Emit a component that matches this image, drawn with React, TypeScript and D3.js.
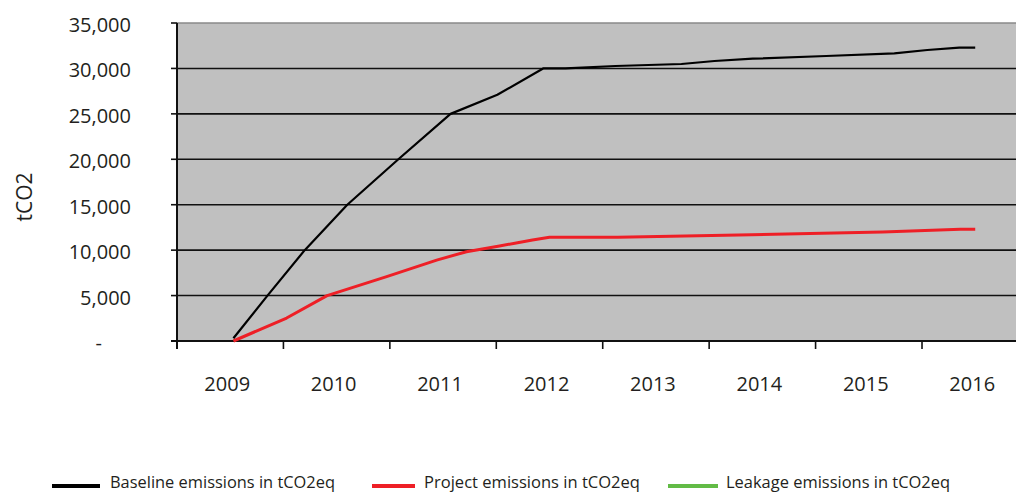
import React from "react";
import * as d3 from "d3";

const years = [2009, 2010, 2011, 2012, 2013, 2014, 2015, 2016];
const yTicks = [0, 5000, 10000, 15000, 20000, 25000, 30000, 35000];

// time (fractional year, year centre = integer) and values
const baselineT = [2009.03, 2009.35, 2009.7, 2010.1, 2010.58, 2011.07, 2011.51, 2011.94, 2012.15, 2012.62, 2013.24, 2013.55, 2013.91, 2014.6, 2015.24, 2015.55, 2015.85, 2016.0];
const baselineV = [300, 5000, 10000, 15000, 20000, 25000, 27100, 30000, 30000, 30270, 30490, 30820, 31070, 31370, 31660, 32030, 32280, 32300];

const projectT = [2009.03, 2009.53, 2009.91, 2010.47, 2010.94, 2011.22, 2011.53, 2011.7, 2011.84, 2012.0, 2012.64, 2013.9, 2015.13, 2015.86, 2016.0];
const projectV = [0, 2530, 5000, 7080, 8900, 9830, 10460, 10820, 11120, 11410, 11430, 11700, 12000, 12290, 12290];

const legendItems = [
  { label: "Baseline emissions in tCO2eq", color: "#000000" },
  { label: "Project emissions in tCO2eq", color: "#ee1f26" },
  { label: "Leakage emissions in tCO2eq", color: "#62bb46" },
];

const W = 1016;
const H = 492;
const left = 177;
const top = 23;
const bottom = 341;
const step = 106.43;

export default function App() {
  const x = d3.scaleLinear().domain([2008.5, 2016.5]).range([left, left + 8 * step]);
  const y = d3.scaleLinear().domain([0, 35000]).range([bottom, top]);
  const line = d3
    .line<[number, number]>()
    .x((d) => x(d[0]))
    .y((d) => y(d[1]));
  const baseline = baselineT.map((t, i) => [t, baselineV[i]] as [number, number]);
  const project = projectT.map((t, i) => [t, projectV[i]] as [number, number]);
  const fmt = d3.format(",");
  const font = "'Open Sans', 'DejaVu Sans', sans-serif";
  const xTickPos = d3.range(0, 9).map((i) => 2008.5 + i);
  const legendX = [52, 372, 668];
  const legendW = [48, 43, 50];
  const legendTextX = [110, 424, 726];
  const legendTextLen = [225, 216, 224];

  return (
    <svg width={W} height={H} style={{ position: "absolute", left: 0, top: 0, display: "block" }} fontFamily={font}>
      <rect x={0} y={0} width={W} height={H} fill="#ffffff" />
      <rect x={left} y={top} width={W - left} height={bottom - top} fill="#c0c0c0" />
      <line x1={left} x2={W} y1={top} y2={top} stroke="#8a8a8a" strokeWidth={1.5} />
      {yTicks.slice(1, -1).map((v) => (
        <line key={v} x1={left} x2={W} y1={y(v)} y2={y(v)} stroke="#111" strokeWidth={1.6} />
      ))}
      {/* axes */}
      <line x1={left} x2={left} y1={top} y2={bottom + 8} stroke="#111" strokeWidth={2} />
      <line x1={left - 6} x2={W} y1={bottom} y2={bottom} stroke="#111" strokeWidth={2} />
      {yTicks.map((v) => (
        <line key={"t" + v} x1={left - 6} x2={left} y1={y(v)} y2={y(v)} stroke="#111" strokeWidth={1.6} />
      ))}
      {xTickPos.map((t) => (
        <line key={"x" + t} x1={x(t)} x2={x(t)} y1={bottom} y2={bottom + 8} stroke="#111" strokeWidth={1.6} />
      ))}
      {yTicks.map((v) => (
        <text
          key={"l" + v}
          x={v === 0 ? 102 : 131}
          y={y(v) + 9}
          textAnchor="end"
          fontSize={20}
          fill="#231f20"
        >
          {v === 0 ? "-" : fmt(v)}
        </text>
      ))}
      {years.map((yr) => (
        <text key={yr} x={x(yr) - 3} y={391} textAnchor="middle" fontSize={20} fill="#231f20">
          {yr}
        </text>
      ))}
      <text transform={`translate(32,197) rotate(-90)`} textAnchor="middle" fontSize={21} fill="#231f20">
        tCO2
      </text>
      {/* series */}
      <path d={line(project) || ""} fill="none" stroke="#ee1f26" strokeWidth={3} strokeLinejoin="round" />
      <path d={line(baseline) || ""} fill="none" stroke="#000" strokeWidth={2.2} strokeLinejoin="round" />
      {/* legend */}
      {legendItems.map((it, i) => (
        <g key={it.label}>
          <rect x={legendX[i]} y={484} width={legendW[i]} height={4} fill={it.color} />
          <text
            x={legendTextX[i]}
            y={488}
            fontSize={15.5}
            fill="#231f20"
            textLength={legendTextLen[i]}
            lengthAdjust="spacingAndGlyphs"
          >
            {it.label}
          </text>
        </g>
      ))}
    </svg>
  );
}
